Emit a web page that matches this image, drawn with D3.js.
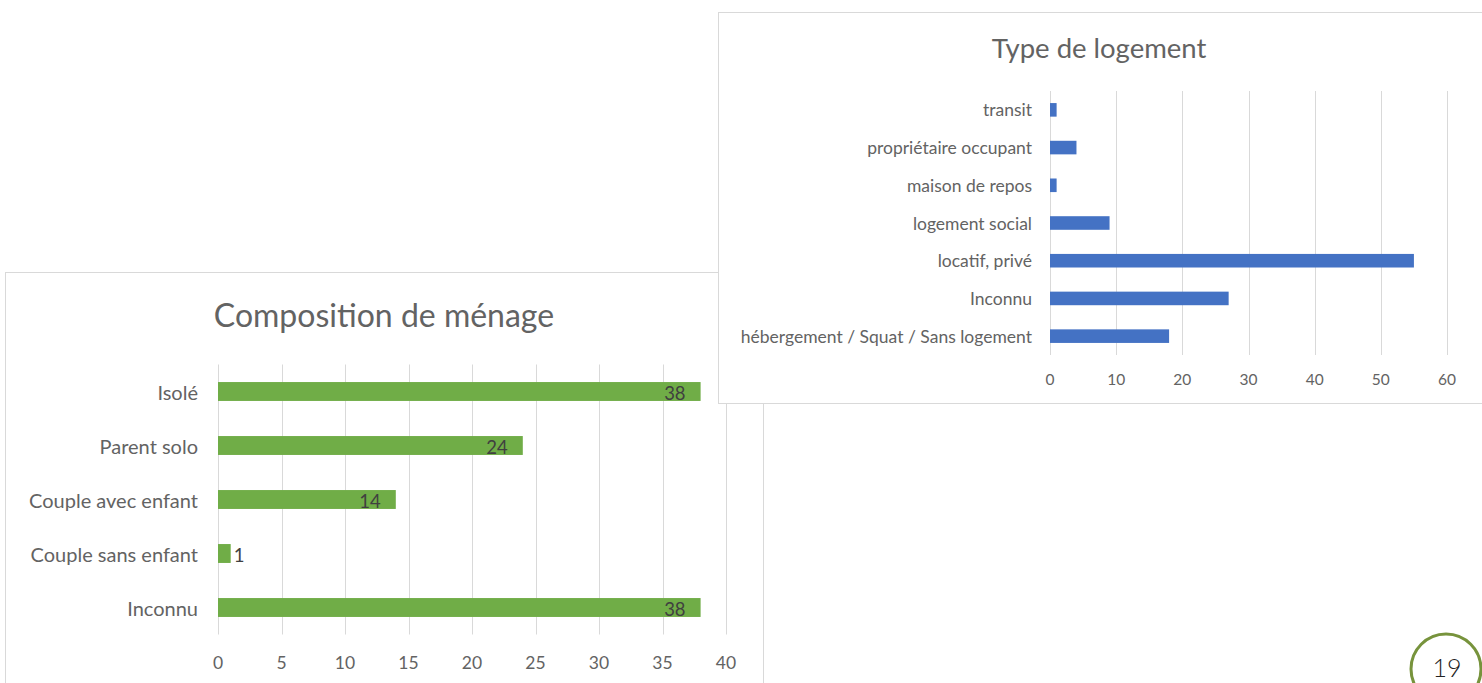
<!DOCTYPE html>
<html>
<head>
<meta charset="utf-8">
<script src="https://cdn.jsdelivr.net/npm/d3@7"></script>
<style>
  html, body { margin: 0; padding: 0; background: #fff; }
  svg { display: block; }
  text { font-family: Lato, "Open Sans", sans-serif; font-weight: 400; }
</style>
</head>
<body>
<svg id="page" width="1482" height="683"></svg>
<script>
// Household composition (green chart)
const menageCategories = ["Isolé", "Parent solo", "Couple avec enfant", "Couple sans enfant", "Inconnu"];
const menageValues = [38, 24, 14, 1, 38];
const menageTicks = [0, 5, 10, 15, 20, 25, 30, 35, 40];

// Housing type (blue chart)
const logementCategories = ["transit", "propriétaire occupant", "maison de repos", "logement social", "locatif, privé", "Inconnu", "hébergement / Squat / Sans logement"];
const logementValues = [1, 4, 1, 9, 55, 27, 18];
const logementTicks = [0, 10, 20, 30, 40, 50, 60];

const pageNumber = "19";

const svg = d3.select("#page");
const TEXT = "#636363";
const GRID = "#d9d9d9";

function barChart(g, opts) {
  const x = d3.scaleLinear().domain(opts.domain).range(opts.xRange);
  const y = d3.scaleBand().domain(opts.categories)
    .range(opts.yRange).paddingInner(opts.pad).paddingOuter(opts.pad / 2);

  // frame
  g.append("rect")
    .attr("x", opts.frame[0] + 0.5).attr("y", opts.frame[1] + 0.5)
    .attr("width", opts.frame[2]).attr("height", opts.frame[3])
    .attr("fill", "#fff").attr("stroke", GRID).attr("stroke-width", 1);

  // title
  g.append("text")
    .attr("x", opts.titlePos[0]).attr("y", opts.titlePos[1])
    .attr("text-anchor", "middle").attr("dominant-baseline", "central")
    .attr("fill", TEXT).attr("font-size", opts.titleSize)
    .text(opts.title);

  // vertical gridlines
  g.append("g").selectAll("line").data(opts.ticks).join("line")
    .attr("x1", d => Math.round(x(d)) + 0.5).attr("x2", d => Math.round(x(d)) + 0.5)
    .attr("y1", opts.yRange[0]).attr("y2", opts.yRange[1])
    .attr("stroke", GRID).attr("stroke-width", 1);

  // tick labels
  g.append("g").selectAll("text").data(opts.ticks).join("text")
    .attr("x", d => x(d)).attr("y", opts.tickY)
    .attr("text-anchor", "middle").attr("dominant-baseline", "central")
    .attr("fill", TEXT).attr("font-size", opts.tickSize)
    .text(d => d);

  // category labels
  g.append("g").selectAll("text").data(opts.categories).join("text")
    .attr("x", opts.labelX).attr("y", d => y(d) + y.bandwidth() / 2)
    .attr("text-anchor", "end").attr("dominant-baseline", "central")
    .attr("fill", TEXT).attr("font-size", opts.labelSize)
    .text(d => d);

  // bars
  const data = opts.categories.map((c, i) => ({ c, v: opts.values[i] }));
  g.append("g").selectAll("rect").data(data).join("rect")
    .attr("x", x(0)).attr("y", d => y(d.c))
    .attr("width", d => x(d.v) - x(0)).attr("height", y.bandwidth())
    .attr("fill", opts.color);

  // data labels: inside end, or just past the end on very short bars
  if (opts.dataLabels) {
    g.append("g").selectAll("text").data(data).join("text")
      .attr("x", d => d.v >= 5 ? x(d.v) - 15 : x(d.v) + 3)
      .attr("y", d => y(d.c) + y.bandwidth() / 2 + 1)
      .attr("text-anchor", d => d.v >= 5 ? "end" : "start")
      .attr("dominant-baseline", "central")
      .attr("fill", "#404040").attr("font-size", opts.dataSize)
      .text(d => d.v);
  }
}

// Composition de ménage (drawn first, partly covered by the second chart)
barChart(svg.append("g"), {
  title: "Composition de ménage",
  titlePos: [384, 314], titleSize: 32,
  frame: [5, 272, 758, 430],
  categories: menageCategories, values: menageValues, ticks: menageTicks,
  domain: [0, 40], xRange: [218, 726], yRange: [364.5, 634.5], pad: 0.65,
  tickY: 662, tickSize: 17.5, labelX: 198, labelSize: 20,
  color: "#70AD47", dataLabels: true, dataSize: 18.5
});

// Type de logement
barChart(svg.append("g"), {
  title: "Type de logement",
  titlePos: [1099, 47], titleSize: 27.5,
  frame: [718, 12, 780, 391],
  categories: logementCategories, values: logementValues, ticks: logementTicks,
  domain: [0, 60], xRange: [1050, 1447], yRange: [91, 355], pad: 0.64,
  tickY: 379, tickSize: 15.5, labelX: 1032, labelSize: 17.5,
  color: "#4472C4", dataLabels: false
});

// page number badge
const badge = svg.append("g");
badge.append("circle")
  .attr("cx", 1446).attr("cy", 669).attr("r", 35)
  .attr("fill", "#fff").attr("stroke", "#77933C").attr("stroke-width", 3);
badge.append("text")
  .attr("x", 1447).attr("y", 667)
  .attr("text-anchor", "middle").attr("dominant-baseline", "central")
  .attr("fill", "#222").attr("font-size", 25).style("font-weight", 300)
  .text(pageNumber);
</script>
</body>
</html>
